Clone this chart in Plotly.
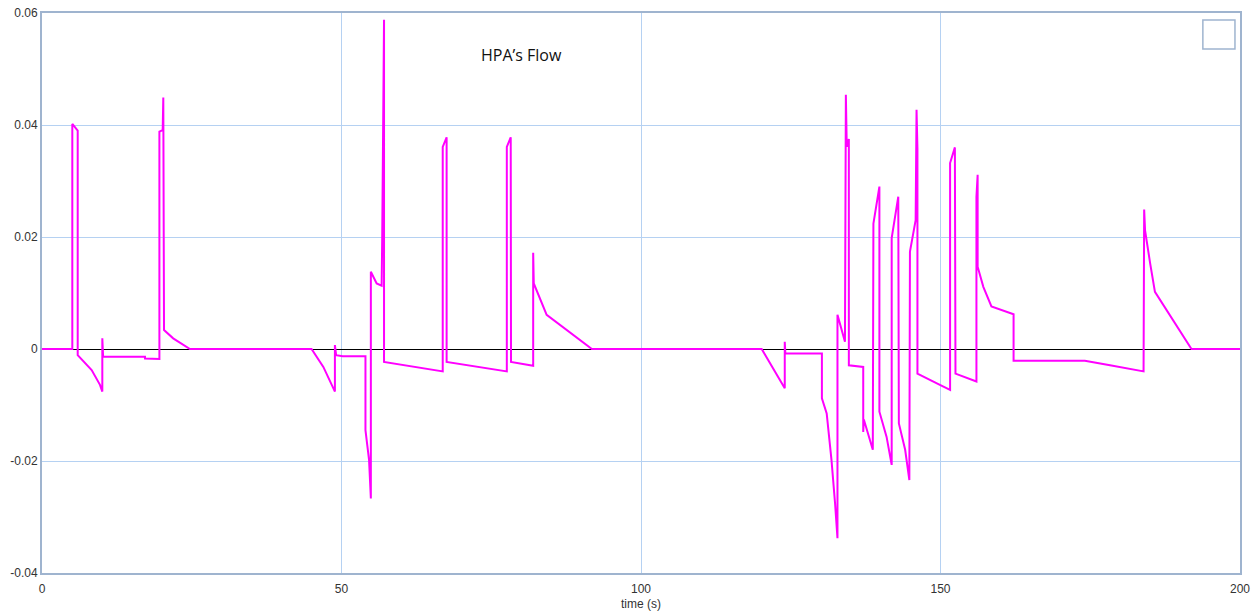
import plotly.graph_objects as go

# HPA flow samples: time (s) and flow value
time_s = [
    0, 5.06, 5.06, 5.96, 5.96, 8.29, 9.68, 10.07, 10.07, 10.2, 17.2, 17.2, 19.6,
    19.6, 20.15, 20.25, 20.37, 21.9, 24.7,
    45.0, 46.97, 48.9, 48.9, 49.1, 50.2, 54.0, 54.0, 54.6, 54.9, 54.9, 55.87, 56.7,
    56.8, 57.1, 57.1, 66.9, 66.9, 67.55, 67.55, 77.6, 77.6, 78.25, 78.3, 82.0, 82.0,
    82.1, 84.25, 86.5, 91.8,
    120.15, 124.0, 124.0, 124.1, 130.2, 130.2, 131.0, 131.8, 132.4, 132.8, 132.8,
    134.05, 134.2, 134.35, 134.7, 134.7, 137.1, 137.1, 137.2, 138.7, 138.8, 139.8,
    139.8, 141.0, 141.85, 141.85, 142.95, 143.05, 144.1, 144.8, 144.9, 145.85, 146.0,
    146.15, 146.15, 149.9, 151.6, 151.6, 152.4, 152.5, 156.0, 156.0, 156.2, 156.2,
    157.15, 158.5, 162.2, 162.2, 174.1, 178.3, 183.9, 184.0, 184.15, 185.0, 185.8,
    191.9, 200,
]
flow = [
    0, 0, 0.0402, 0.039, -0.0011, -0.00375, -0.0064, -0.0076, 0.0019, -0.0014, -0.0014, -0.0017, -0.0018,
    0.0388, 0.0391, 0.0449, 0.0034, 0.0019, 0,
    0, -0.0032, -0.0076, 0.0007, -0.0011, -0.0013, -0.0013, -0.0145, -0.0198, -0.0267, 0.0138, 0.0117, 0.0113,
    0.0200, 0.0588, -0.0023, -0.0040, 0.0361, 0.0378, -0.0023, -0.0040, 0.0361, 0.0378, -0.0023, -0.0030, 0.0172,
    0.0117, 0.0061, 0.0043, 0,
    0, -0.0070, 0.0013, -0.0008, -0.0008, -0.0088, -0.0115, -0.0198, -0.0276, -0.0338, 0.0061,
    0.0013, 0.0454, 0.0361, 0.0375, -0.0029, -0.0032, -0.0148, -0.0126, -0.0180, 0.0224, 0.0290,
    -0.0112, -0.0157, -0.0207, 0.0198, 0.0272, -0.0133, -0.0180, -0.0234, 0.0174, 0.0230, 0.0427,
    0.0358, -0.0044, -0.0064, -0.0073, 0.0332, 0.0360, -0.0044, -0.0058, 0.0272, 0.0311, 0.0147,
    0.0111, 0.0076, 0.0062, -0.0021, -0.0021, -0.0029, -0.0040, 0.0249, 0.0212, 0.0153, 0.0102,
    0, 0,
]

x_ticks = [0, 50, 100, 150, 200]
y_ticks = [-0.04, -0.02, 0, 0.02, 0.04, 0.06]
y_tick_text = ["-0.04", "-0.02", "0", "0.02", "0.04", "0.06"]

grid_color = "#b5d1f2"
frame_color = "#9fb4cf"

fig = go.Figure()
fig.add_trace(go.Scatter(
    x=time_s, y=flow, mode="lines",
    line=dict(color="#ff00ff", width=2),
    showlegend=False, hoverinfo="x+y",
))

fig.update_layout(
    width=1257, height=615,
    margin=dict(l=42, r=17, t=13, b=42),
    plot_bgcolor="white", paper_bgcolor="white",
    font=dict(family="Liberation Sans, Arial, sans-serif", size=12, color="#333333"),
    showlegend=False,
    xaxis=dict(
        range=[0, 200], tickvals=x_ticks, showgrid=True, gridcolor=grid_color, gridwidth=1,
        zeroline=False, showline=True, linecolor=frame_color, linewidth=2, mirror=True,
        ticks="", ticklabelstandoff=4, automargin=False,
        title=dict(text="time (s)", standoff=4, font=dict(size=12, color="#333333")),
    ),
    yaxis=dict(
        range=[-0.04, 0.06], tickvals=y_ticks, ticktext=y_tick_text, showgrid=True,
        gridcolor=grid_color, gridwidth=1, zeroline=True, zerolinecolor="#000000",
        zerolinewidth=1, showline=True, linecolor=frame_color, linewidth=2, mirror=True,
        ticks="", automargin=False,
    ),
    annotations=[dict(
        text="HPA’s Flow", x=0.4, y=0.925, xref="paper", yref="paper",
        showarrow=False, xanchor="center", yanchor="middle",
        font=dict(family="Open Sans, sans-serif", size=16, color="#111111"),
    )],
    shapes=[dict(
        type="rect", xref="paper", yref="paper",
        x0=0.969, x1=0.9958, y0=0.9357, y1=0.9875,
        line=dict(color=frame_color, width=1.5), fillcolor="white",
    )],
)

fig.write_html("out.html")
